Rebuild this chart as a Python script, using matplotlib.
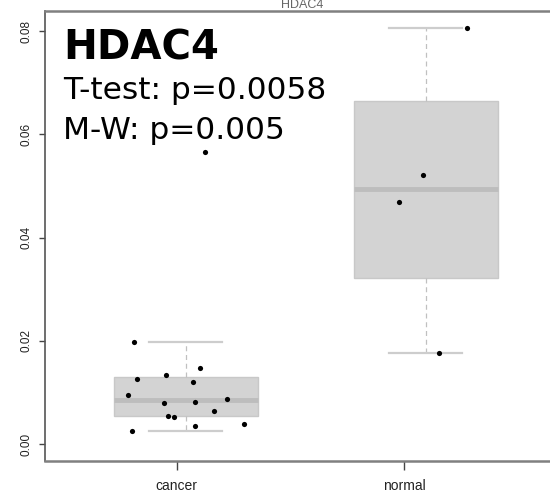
import matplotlib
matplotlib.use("Agg")
import matplotlib.pyplot as plt
import numpy as np

# values
groups = ["cancer", "normal"]
cancer_values = [0.01976, 0.01472, 0.01259, 0.01331, 0.01195, 0.00949, 0.00878, 0.00788,
                 0.00819, 0.00633, 0.00542, 0.00523, 0.00349, 0.00382, 0.00246, 0.05657]
normal_values = [0.0806, 0.0522, 0.0468, 0.01769]
cancer_jitter = [-0.227, 0.061, -0.214, -0.087, 0.032, -0.256, 0.179, -0.098,
                 0.041, 0.124, -0.079, -0.053, 0.041, 0.255, -0.237, 0.083]
normal_jitter = [0.182, -0.012, -0.119, 0.059]
gene = "HDAC4"
ttest_p = "0.0058"
mw_p = "0.005"
yticks = [0.00, 0.02, 0.04, 0.06, 0.08]


def tukey_stats(vals, label):
    """R style boxplot stats (fivenum hinges, 1.5 IQR whiskers)"""
    v = np.sort(np.asarray(vals))
    n = len(v)
    n4 = np.floor((n + 3) / 2) / 2
    idx = np.array([1, n4, (n + 1) / 2, n + 1 - n4, n]) - 1
    fn = 0.5 * (v[np.floor(idx).astype(int)] + v[np.ceil(idx).astype(int)])
    iqr = fn[3] - fn[1]
    inside = v[(v >= fn[1] - 1.5 * iqr) & (v <= fn[3] + 1.5 * iqr)]
    return dict(med=fn[2], q1=fn[1], q3=fn[3], whislo=inside.min(), whishi=inside.max(),
                fliers=[], label=label)


fig = plt.figure(figsize=(5.5, 4.95), dpi=100)
ax = fig.add_axes([0.0818, 0.0693, 0.936, 0.9085])

box_pos = [1.041, 2.094]
stats = [tukey_stats(cancer_values, groups[0]), tukey_stats(normal_values, groups[1])]
ax.bxp(stats, positions=box_pos, widths=0.632, showfliers=False, patch_artist=True,
       boxprops=dict(facecolor="#d3d3d3", edgecolor="#c8c8c8", linewidth=1),
       medianprops=dict(color="#bdbdbd", linewidth=3.5, solid_capstyle="butt"),
       whiskerprops=dict(color="#c0c0c0", linestyle=(0, (4, 3)), linewidth=0.9),
       capprops=dict(color="#cdcdcd", linewidth=1.6), capwidths=0.32)

for pos, vals, jit in zip(box_pos, [cancer_values, normal_values], [cancer_jitter, normal_jitter]):
    ax.scatter(pos + np.array(jit), vals, s=14, color="black", zorder=5, linewidths=0)

ax.set_xlim(0.422, 2.683)
ax.set_ylim(-0.00324, 0.0839)
ax.set_xticks([1, 2], groups, fontsize=10, family="Liberation Sans", color="#222222")
ax.set_yticks(yticks, [f"{t:.2f}" for t in yticks], fontsize=8.5, family="Liberation Sans",
              rotation=90, va="center", color="#222222")
ax.tick_params(axis="x", length=6.5, width=1, color="#444444", pad=7)
ax.tick_params(axis="y", length=4.3, width=1, color="#444444", pad=5)
for side, sp in ax.spines.items():
    sp.set_color("#808080")
    sp.set_linewidth(1.8)
ax.spines["left"].set_color("#555555")
ax.spines["left"].set_linewidth(1.2)

ax.set_title(gene, fontsize=9, color="#666666", pad=2, family="Liberation Sans")

# annotation placed in figure pixels (origin bottom-left)
H = 495
ax.text(63, H - 60, gene, transform=None, fontsize=29, fontweight="bold", color="black")
ax.text(63, H - 99, f"T-test: p={ttest_p}", transform=None, fontsize=22.5, color="black")
ax.text(63, H - 139, f"M-W: p={mw_p}", transform=None, fontsize=22.5, color="black")

fig.savefig("out.png", dpi=100)
